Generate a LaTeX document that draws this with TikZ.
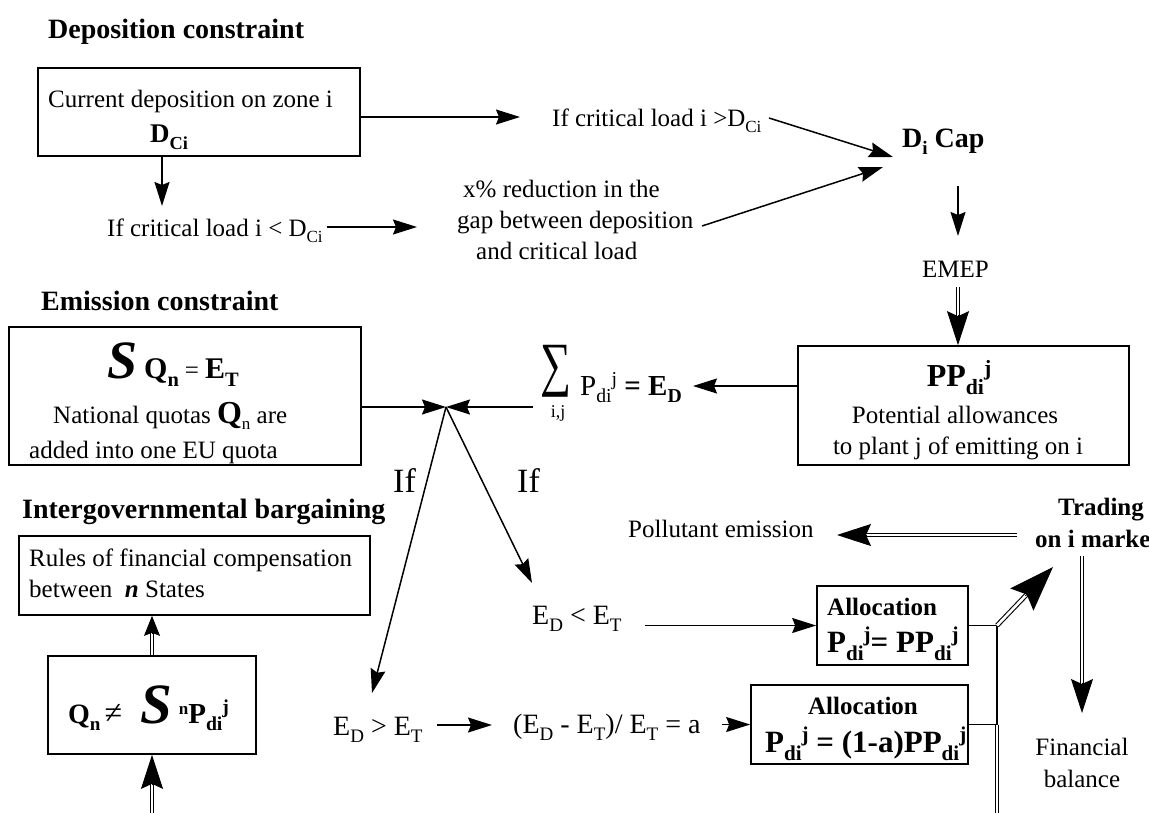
\documentclass[tikz,border=0pt]{standalone}
\usepackage{fontspec}
\setmainfont{Liberation Serif}
\usetikzlibrary{arrows.meta,calc}
\newcommand{\fs}[1]{\fontsize{#1}{#1}\selectfont}
\newcommand{\tsub}[1]{\raisebox{-0.27em}{\scalebox{0.68}{#1}}}
\newcommand{\tsup}[1]{\raisebox{0.33em}{\scalebox{0.68}{#1}}}
\newcommand{\dblarr}[5]{\draw[dbl, shorten >=#5] #1 -- #2; \draw[#3] ($#2!#4!#1$) -- #2;}
\begin{document}
\begin{tikzpicture}[x=1pt,y=-1pt,
 every node/.style={inner sep=0pt, font=\fs{25}},
 box/.style={draw, line width=1.7pt, inner sep=0pt},
 tx/.style={anchor=base west},
 tc/.style={anchor=base},
 ttl/.style={anchor=base west, font=\fs{28}\bfseries},
 ln/.style={line width=1.5pt},
 arr/.style={ln, -{Stealth[length=24pt,width=15pt,inset=3pt]}},
 dbl/.style={double, double distance=2.6pt, line width=1.1pt},
 dtip/.style={line width=1pt, -{Stealth[length=34pt,width=22pt,inset=5pt]}},
 stip/.style={line width=1pt, -{Stealth[length=20pt,width=16pt,inset=3pt]}},
 btip/.style={line width=1pt, -{Stealth[length=45pt,width=32pt,inset=7pt]}},
]
\useasboundingbox (0,0) rectangle (1149,812);
\clip (0,0) rectangle (1149,812);

% titles
\node[ttl] (t_dep) at (48,38) {Deposition constraint};
\node[ttl] (t_emi) at (41,310) {Emission constraint};
\node[ttl] (t_int) at (22,518) {Intergovernmental bargaining};

% deposition box
\node[box, minimum width=322pt, minimum height=88pt] (b1) at (199,112) {};
\node[tx] (t_cur) at (48,107) {Current deposition on zone i};
\node[tx, font=\fs{27}\bfseries] (t_dci) at (150,142) {D\tsub{Ci}};

\coordinate (a1e) at (520,117);
\draw[arr] ([yshift=-5pt]b1.east) -- (a1e);
\node[tx] (t_gt) at (552,126) {If critical load i >D\tsub{Ci}};

\coordinate (a2e) at (162,206);
\draw[arr] ([xshift=-37pt]b1.south) -- (a2e);
\node[tx] (t_lt) at (107,236) {If critical load i < D\tsub{Ci}};
\coordinate (a3s) at (327,227);
\coordinate (a3e) at (417,227);
\draw[arr] (a3s) -- (a3e);

\node[tx] (t_x1) at (463,197) {x\% reduction in the};
\node[tx] (t_x2) at (457,228) {gap between deposition};
\node[tx] (t_x3) at (476,259) {and critical load};

\node[tx, font=\fs{28}\bfseries] (t_dicap) at (902,147) {D\tsub{i} Cap};
\coordinate (l1s) at (769,118);
\coordinate (dc1) at (893,157);
\draw[arr] (l1s) -- (dc1);
\coordinate (l2s) at (702,226);
\coordinate (dc2) at (883,167);
\draw[arr] (l2s) -- (dc2);

\coordinate (e1s) at (958,186);
\coordinate (e1e) at (958,236);
\draw[arr] (e1s) -- (e1e);
\node[tx] (t_emep) at (922,277) {EMEP};

% PP box
\node[box, minimum width=331pt, minimum height=119pt] (b_pp) at (963.5,405.5) {};
\coordinate (e2s) at (958,287);
\coordinate (e2e) at ([xshift=-5.5pt]b_pp.north);
\dblarr{(e2s)}{(e2e)}{dtip}{30pt}{20pt}
\node[tc, font=\fs{32}\bfseries] (t_pp) at (959,386) {PP\tsub{di}\tsup{j}};
\node[tc] (t_pa1) at (955,423) {Potential allowances};
\node[tc] (t_pa2) at (958,454) {to plant j of emitting on i};

\coordinate (sumtip) at (693,386);
\draw[arr] ([yshift=19.5pt]b_pp.west) -- (sumtip);
\node[anchor=north west] (t_sig) at (540,345) {\resizebox*{31pt}{52pt}{∑}};
\node[tc, font=\fs{18}] (t_ij) at (558,417) {i,j};
\node[tx, font=\fs{29}] (t_ed) at (580,395) {P\tsub{di}\tsup{j} \textbf{= E\tsub{D}}};

% emission box
\node[box, minimum width=352pt, minimum height=138pt] (b_em) at (185,396) {};
\node[tx] (t_sq) at (107,378) {{\fs{54}\bfseries\itshape S}\hspace{7pt}{\fs{30}\bfseries Q\tsub{n}}\hspace{6pt}{\fs{25}=}\hspace{6pt}{\fs{30}\bfseries E\tsub{T}}};
\node[tx] (t_nq) at (53,423) {National quotas {\fs{32}\bfseries Q}\tsub{n} are};
\node[tx] (t_add) at (29,458) {added into one EU quota};

\coordinate (jn) at (446,407);
\draw[arr] ([yshift=-11pt]b_em.east) -- (jn);
\coordinate (sums) at (533,407);
\draw[arr] (sums) -- (jn);
\coordinate (gt1) at (372,693);
\coordinate (lt1) at (532,583);
\draw[arr] (jn) -- (gt1);
\draw[arr] (jn) -- (lt1);
\node[tx, font=\fs{34}] (t_if1) at (393,492) {If};
\node[tx, font=\fs{34}] (t_if2) at (517,492) {If};

% intergovernmental
\node[box, minimum width=351pt, minimum height=79pt] (b_rules) at (194.5,575.5) {};
\node[tx] (t_r1) at (29,566) {Rules of financial compensation};
\node[tx] (t_r2) at (29,597) {between \ \textbf{\textit{n}} States};

\node[box, minimum width=208pt, minimum height=98pt] (b_q) at (152,705) {};
\node[tx] (t_qn) at (68,723) {{\fs{28}\bfseries Q\tsub{n}}\hspace{4pt}{\fs{32}≠}\hspace{18pt}{\fs{57}\bfseries\itshape S}\hspace{7pt}{\bfseries\tsup{n}\fs{29}P\tsub{di}\tsup{j}}};
\coordinate (q1) at (b_q.north |- b_rules.south);
\dblarr{(b_q.north)}{(q1)}{stip}{17pt}{12pt}
\coordinate (qb) at (152,815);
\dblarr{(qb)}{(b_q.south)}{dtip}{30pt}{20pt}

% E conditions
\node[tx, font=\fs{28}] (t_edgt) at (333,735) {E\tsub{D} > E\tsub{T}};
\coordinate (a11s) at (437,725);
\coordinate (a11e) at (492,725);
\draw[arr] (a11s) -- (a11e);
\node[tx, font=\fs{28}] (t_frac) at (513,733) {(E\tsub{D} - E\tsub{T})/ E\tsub{T} = a};
\node[box, minimum width=217pt, minimum height=79pt] (b_a2) at (859.5,724.5) {};
\coordinate (a12s) at (722,724.5);
\draw[arr] (a12s) -- (b_a2.west);
\node[tc, font=\fs{25}\bfseries] (t_al2) at (863,714) {Allocation};
\node[tx, font=\fs{31}\bfseries] (t_f2) at (765,752) {P\tsub{di}\tsup{j} = (1-a)PP\tsub{di}\tsup{j}};

\node[tx, font=\fs{28}] (t_edlt) at (532,624) {E\tsub{D} < E\tsub{T}};
\node[box, minimum width=151pt, minimum height=79pt] (b_a1) at (892.5,625.5) {};
\coordinate (a13s) at (645,625.5);
\draw[arr] (a13s) -- (b_a1.west);
\node[tx, font=\fs{25}\bfseries] (t_al1) at (827,615) {Allocation};
\node[tx, font=\fs{31}\bfseries] (t_f1) at (827,652) {P\tsub{di}\tsup{j}= PP\tsub{di}\tsup{j}};

% market
\coordinate (cn1) at (997,625.5);
\coordinate (cn2) at (997,724.5);
\coordinate (cn3) at (997,815);
\draw[ln] (b_a1.east) -- (cn1) -- (cn2);
\draw[ln] (b_a2.east) -- (cn2);
\draw[dbl] (cn2) -- (cn3);
\coordinate (trd) at (1053,567);
\dblarr{(cn1)}{(trd)}{btip}{40pt}{25pt}

\node[tx, font=\fs{25}\bfseries] (t_tr1) at (1058,515) {Trading};
\node[tx, font=\fs{25}\bfseries] (t_tr2) at (1035,547) {on i market};
\coordinate (tr1) at (1017,535);
\coordinate (pe) at (837,535);
\dblarr{(tr1)}{(pe)}{dtip}{30pt}{20pt}
\node[tx] (t_pol) at (628,537) {Pollutant emission};
\coordinate (tr2) at (1082,556);
\coordinate (fb) at (1082,713);
\dblarr{(tr2)}{(fb)}{dtip}{30pt}{20pt}
\node[tc] (t_fin1) at (1082,755) {Financial};
\node[tc] (t_fin2) at (1082,787) {balance};
\end{tikzpicture}
\end{document}
